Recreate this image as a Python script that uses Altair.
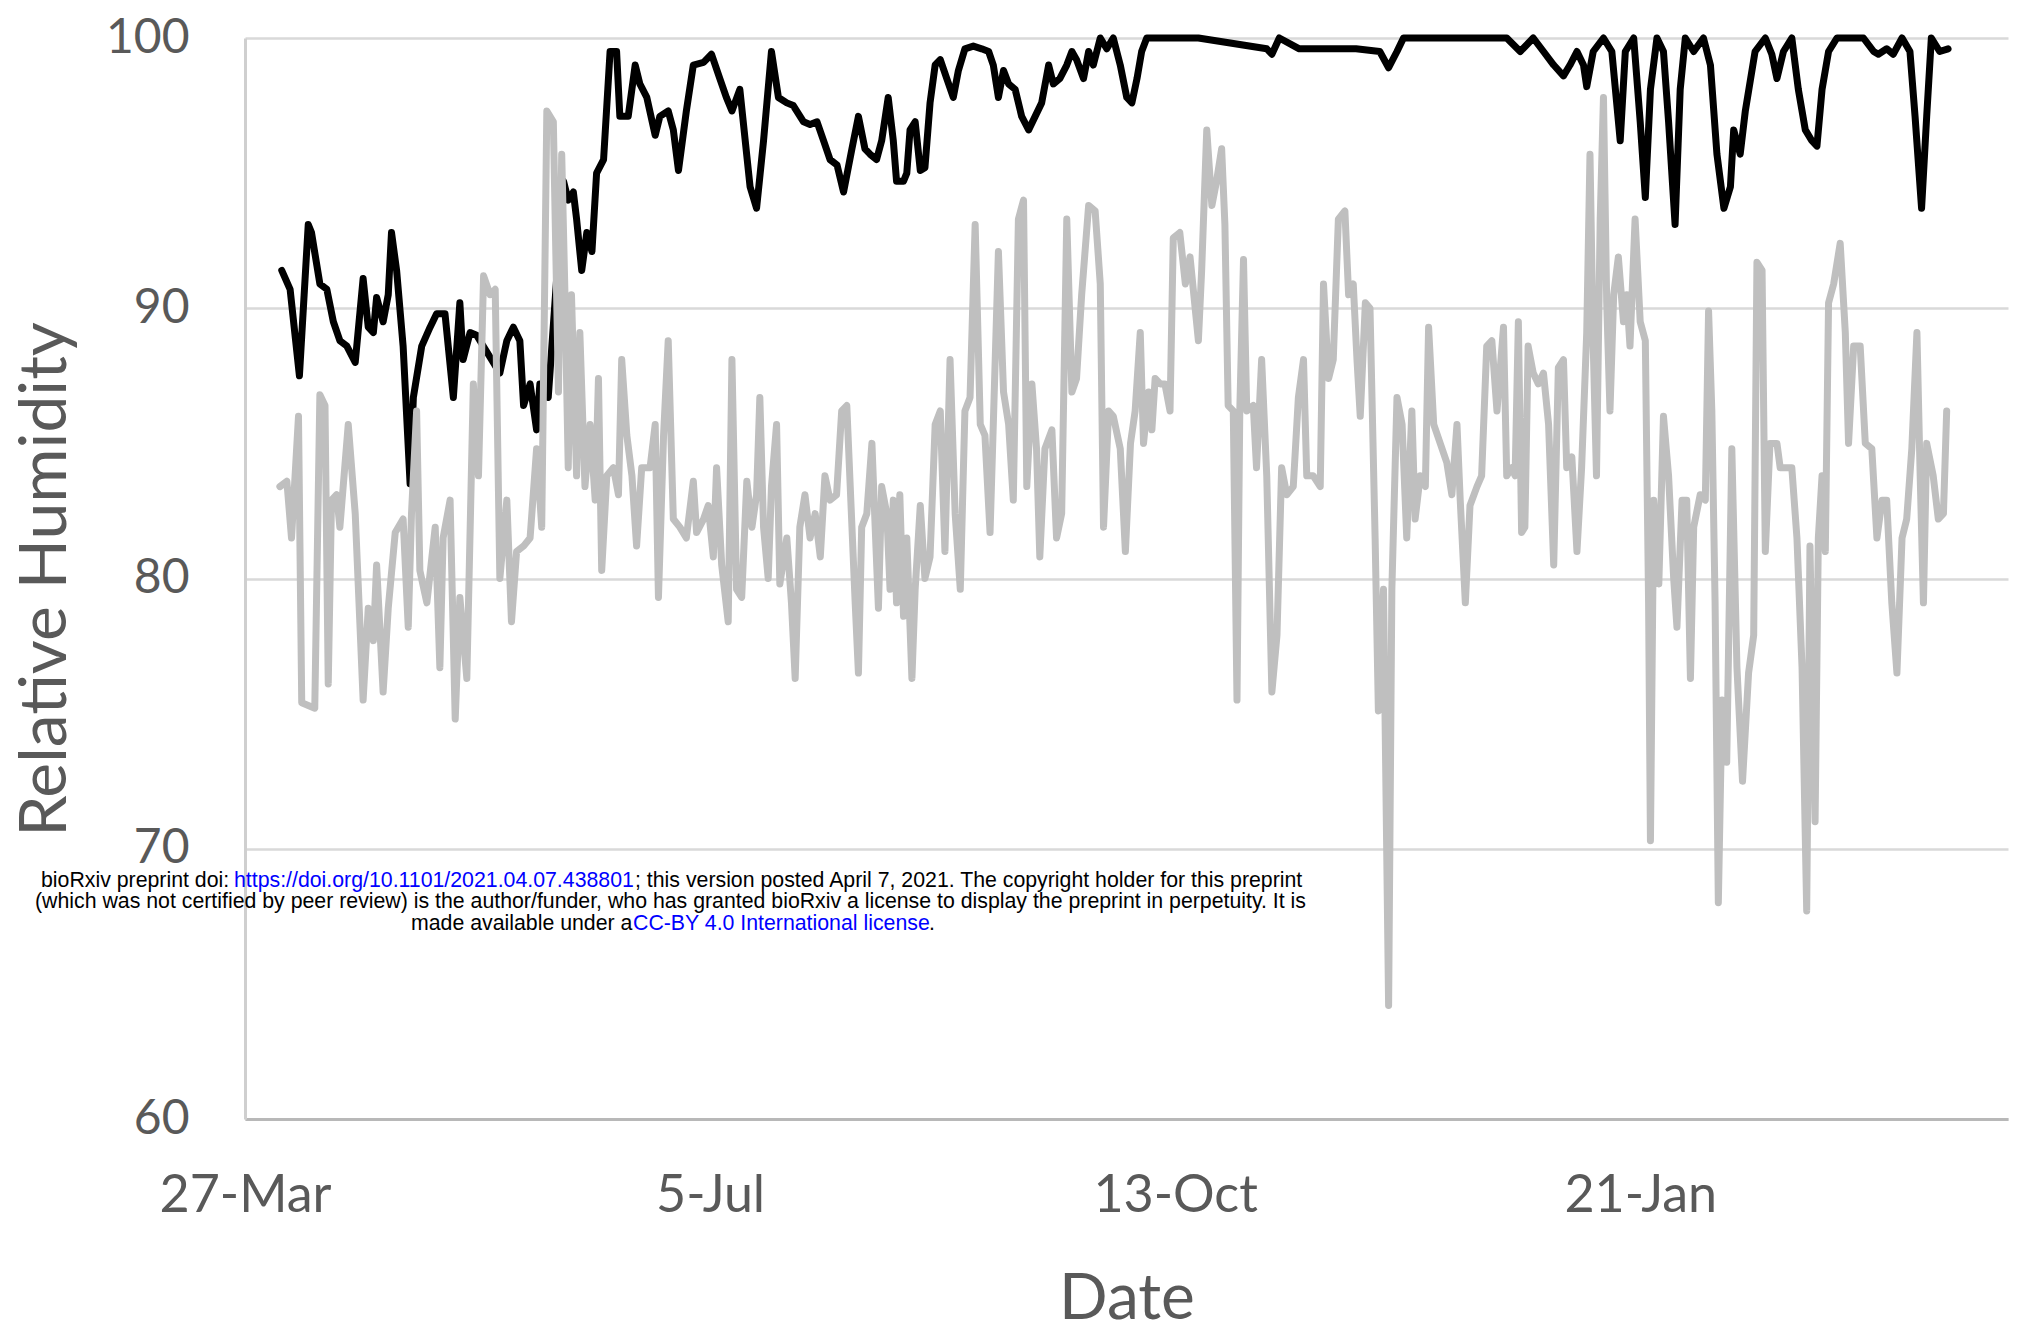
import altair as alt
import pandas as pd

# ---- data (day offset from 27-Mar, relative humidity %) ----
black_day = [
    7.9, 9.7, 11.7, 13.6, 14.3, 16.1, 17.6, 19.0, 20.4, 21.9,
    23.7, 25.4, 26.5, 27.6, 28.3, 29.7, 30.8, 31.5, 32.6, 34.0,
    35.5, 36.2, 38.0, 39.8, 41.2, 43.0, 44.8, 46.2, 46.9, 48.4,
    49.8, 54.8, 56.3, 57.7, 59.1, 59.9, 61.3, 62.7, 63.4, 65.2,
    68.5, 69.5, 70.6, 71.3, 72.4, 73.5, 74.6, 75.6, 77.1, 78.5,
    79.9, 80.6, 82.4, 83.9, 84.9, 86.4, 88.2, 89.2, 91.0, 92.1,
    93.2, 94.9, 96.4, 98.6, 100.3, 102.1, 103.5, 104.7, 106.4, 108.6,
    110.0, 111.5, 113.2, 114.7, 116.5, 117.9, 120.1, 121.5, 123.0, 124.4,
    125.8, 127.3, 128.7, 130.5, 131.9, 133.3, 134.4, 135.8, 136.9, 138.3,
    139.4, 140.1, 141.6, 142.3, 143.0, 144.1, 145.2, 146.2, 147.3, 148.4,
    149.5, 150.9, 152.3, 153.4, 154.8, 156.6, 158.4, 159.9, 160.9, 162.0,
    163.1, 164.2, 165.6, 167.0, 168.5, 169.9, 171.3, 172.8, 173.8, 175.2,
    176.7, 177.8, 178.8, 180.3, 181.4, 182.4, 183.9, 185.3, 186.7, 188.2,
    189.6, 190.7, 191.8, 192.8, 193.9, 205.0, 219.7, 220.8, 222.4, 226.7,
    238.9, 244.0, 245.9, 247.7, 249.1, 259.2, 271.3, 274.2, 277.0, 279.2,
    281.4, 283.5, 284.9, 286.4, 287.8, 288.5, 289.9, 292.1, 293.9, 295.7,
    296.8, 298.6, 300.0, 301.1, 302.2, 303.6, 305.0, 306.1, 307.5, 308.6,
    309.7, 311.5, 313.6, 315.1, 316.5, 318.0, 319.4, 320.1, 321.5, 322.6,
    324.7, 326.9, 328.3, 329.4, 330.8, 332.6, 334.0, 335.5, 336.9, 338.0,
    339.1, 340.5, 342.3, 345.2, 348.0, 350.2, 351.2, 353.0, 354.4, 356.3,
    358.0, 359.1, 360.5, 361.6, 362.6, 364.4, 366.2,
]
black_rh = [
    91.4, 90.7, 87.5, 93.1, 92.8, 90.9, 90.7, 89.5, 88.8, 88.6,
    88.0, 91.1, 89.3, 89.1, 90.4, 89.5, 90.5, 92.8, 91.4, 88.6,
    83.5, 86.7, 88.6, 89.3, 89.8, 89.8, 86.7, 90.2, 88.1, 89.1,
    89.0, 87.6, 88.8, 89.3, 88.8, 86.4, 87.2, 85.5, 87.2, 86.7,
    94.7, 94.0, 94.3, 93.3, 91.4, 92.8, 92.1, 95.0, 95.5, 99.5,
    99.5, 97.1, 97.1, 99.0, 98.3, 97.8, 96.4, 97.1, 97.3, 96.6,
    95.1, 97.3, 99.0, 99.1, 99.4, 98.5, 97.8, 97.3, 98.1, 94.5,
    93.7, 96.2, 99.5, 97.8, 97.6, 97.5, 96.9, 96.8, 96.9, 96.2,
    95.5, 95.3, 94.3, 95.9, 97.1, 95.9, 95.7, 95.5, 96.2, 97.8,
    96.2, 94.7, 94.7, 95.0, 96.6, 96.9, 95.1, 95.2, 97.6, 99.0,
    99.2, 98.5, 97.8, 98.8, 99.6, 99.7, 99.6, 99.5, 99.0, 97.8,
    98.8, 98.3, 98.1, 97.1, 96.6, 97.1, 97.6, 99.0, 98.3, 98.5,
    99.0, 99.5, 99.2, 98.5, 99.5, 99.0, 100.0, 99.6, 100.0, 99.0,
    97.8, 97.6, 98.5, 99.5, 100.0, 100.0, 99.6, 99.4, 100.0, 99.6,
    99.6, 99.5, 98.9, 99.5, 100.0, 100.0, 100.0, 99.5, 100.0, 99.5,
    99.0, 98.6, 99.0, 99.5, 99.0, 98.2, 99.5, 100.0, 99.5, 96.2,
    99.5, 100.0, 96.9, 94.1, 98.1, 100.0, 99.5, 96.9, 93.1, 98.1,
    100.0, 99.5, 100.0, 99.0, 95.7, 93.7, 94.5, 96.6, 95.7, 97.3,
    99.5, 100.0, 99.4, 98.5, 99.5, 100.0, 98.1, 96.6, 96.2, 96.0,
    98.1, 99.5, 100.0, 100.0, 100.0, 99.5, 99.4, 99.6, 99.4, 100.0,
    99.5, 97.1, 93.7, 97.1, 100.0, 99.5, 99.6,
]

gray_day = [
    7.5, 9.0, 10.0, 11.5, 12.2, 13.6, 15.0, 16.1, 17.2, 17.9,
    18.6, 19.7, 20.4, 22.2, 23.7, 25.4, 26.5, 27.6, 28.3, 29.7,
    30.8, 32.3, 34.0, 35.1, 35.8, 36.9, 37.6, 39.1, 40.9, 41.9,
    42.6, 44.1, 45.2, 46.2, 47.7, 49.1, 50.2, 51.3, 52.7, 53.8,
    54.8, 56.3, 57.3, 58.4, 59.9, 61.3, 62.7, 63.8, 64.9, 66.3,
    67.4, 68.1, 68.8, 69.5, 70.2, 71.3, 72.0, 73.1, 74.2, 75.3,
    76.0, 76.7, 77.8, 79.2, 80.3, 81.0, 82.1, 83.2, 84.2, 85.3,
    87.1, 88.2, 88.9, 90.0, 91.0, 92.1, 93.5, 94.9, 96.4, 97.1,
    98.6, 99.6, 100.7, 101.4, 102.5, 103.9, 104.7, 105.7, 106.8, 107.9,
    109.0, 110.0, 110.7, 111.5, 112.5, 113.2, 114.3, 115.0, 116.5, 117.5,
    118.3, 119.3, 120.4, 121.5, 122.6, 123.7, 124.7, 125.8, 127.2, 128.3,
    129.4, 131.2, 131.9, 132.6, 133.7, 134.8, 135.5, 136.2, 136.9, 138.0,
    138.7, 139.4, 140.1, 140.8, 141.6, 142.3, 143.4, 144.1, 145.2, 146.2,
    147.3, 148.4, 149.5, 150.5, 151.6, 152.7, 153.8, 154.8, 155.9, 157.0,
    158.1, 159.1, 160.2, 160.9, 162.0, 163.1, 164.2, 165.2, 166.3, 167.4,
    168.1, 169.2, 170.2, 170.9, 172.0, 173.5, 174.5, 175.6, 176.7, 177.8,
    178.8, 179.9, 181.4, 182.8, 183.9, 184.6, 185.7, 186.7, 188.2, 189.3,
    190.4, 191.4, 192.5, 193.2, 194.3, 195.0, 195.7, 196.8, 197.8, 198.9,
    199.6, 201.0, 202.2, 203.2, 203.9, 205.0, 205.7, 206.8, 207.9, 208.9,
    210.0, 210.7, 211.4, 212.5, 213.3, 213.9, 214.7, 215.4, 216.8, 217.5,
    218.6, 219.7, 220.8, 221.9, 222.9, 224.0, 225.4, 226.5, 227.6, 228.3,
    229.7, 231.2, 231.9, 233.0, 234.0, 235.1, 236.5, 237.3, 238.3, 239.1,
    239.8, 240.9, 241.9, 243.0, 243.7, 244.8, 245.9, 246.6, 247.7, 248.8,
    249.8, 250.9, 251.6, 252.7, 253.8, 254.5, 255.6, 257.0, 258.4, 259.5,
    260.6, 261.3, 262.4, 263.4, 264.9, 265.9, 267.0, 268.1, 269.2, 270.6,
    271.3, 272.4, 273.1, 273.8, 274.5, 275.2, 275.9, 277.0, 278.1, 279.2,
    280.3, 281.4, 282.4, 283.5, 284.2, 285.3, 286.4, 287.4, 288.5, 289.2,
    289.9, 290.6, 291.4, 292.1, 292.8, 293.5, 294.3, 295.3, 296.4, 297.1,
    297.8, 298.9, 300.0, 301.1, 301.8, 302.2, 302.9, 304.0, 305.0, 306.1,
    307.2, 307.9, 309.0, 310.0, 310.8, 311.5, 312.9, 314.0, 314.7, 315.4,
    316.1, 316.8, 317.6, 318.6, 319.7, 320.8, 322.0, 323.3, 324.4, 325.1,
    326.2, 326.9, 327.9, 329.4, 330.1, 331.5, 332.6, 333.7, 334.8, 335.8,
    336.5, 337.6, 338.3, 339.1, 339.8, 340.5, 341.6, 343.0, 344.1, 344.8,
    345.9, 347.3, 348.4, 349.8, 350.9, 352.0, 353.0, 354.1, 355.2, 356.3,
    357.3, 358.4, 359.5, 360.2, 360.9, 361.6, 363.0, 364.1, 365.2, 365.9,
]
gray_rh = [
    83.4, 83.6, 81.5, 86.0, 75.4, 75.3, 75.2, 86.8, 86.4, 76.1,
    82.9, 83.1, 81.9, 85.7, 82.4, 75.5, 78.9, 77.7, 80.5, 75.8,
    78.9, 81.7, 82.2, 78.2, 82.4, 86.2, 80.3, 79.1, 81.9, 76.7,
    81.5, 82.9, 74.8, 79.3, 76.3, 87.2, 83.8, 91.2, 90.5, 90.7,
    80.0, 82.9, 78.4, 81.0, 81.2, 81.5, 84.8, 81.9, 97.3, 96.9,
    86.9, 95.7, 90.5, 84.1, 90.5, 83.8, 89.1, 83.4, 85.7, 82.9,
    87.4, 80.3, 83.8, 84.1, 83.1, 88.1, 85.3, 83.8, 81.2, 84.1,
    84.1, 85.7, 79.3, 85.3, 88.8, 82.2, 81.9, 81.5, 83.6, 81.7,
    82.2, 82.7, 80.8, 84.1, 80.5, 78.4, 88.1, 79.6, 79.3, 83.6,
    81.9, 83.1, 86.7, 81.9, 80.0, 83.4, 85.7, 79.8, 81.5, 79.1,
    76.3, 81.9, 83.1, 81.5, 82.4, 80.8, 83.8, 82.9, 83.1, 86.2,
    86.4, 79.1, 76.5, 81.9, 82.4, 85.0, 81.9, 78.9, 83.4, 82.4,
    79.6, 82.9, 79.1, 83.1, 78.6, 81.5, 76.3, 79.6, 82.7, 80.0,
    80.8, 85.7, 86.2, 81.0, 88.1, 82.4, 79.6, 86.2, 86.7, 93.1,
    85.7, 85.3, 81.7, 85.7, 92.1, 86.9, 85.7, 82.9, 93.3, 94.0,
    83.4, 87.2, 84.8, 80.8, 84.8, 85.5, 81.5, 82.4, 93.3, 86.9,
    87.4, 90.5, 93.8, 93.6, 90.9, 81.9, 86.2, 86.0, 84.8, 81.0,
    85.0, 86.2, 89.1, 85.0, 86.9, 85.5, 87.4, 87.2, 87.2, 86.2,
    92.6, 92.8, 90.9, 91.9, 90.7, 88.8, 91.4, 96.6, 93.8, 94.7,
    95.9, 93.1, 86.4, 86.2, 75.5, 86.2, 91.8, 86.2, 86.4, 84.1,
    88.1, 83.8, 75.8, 77.9, 84.1, 83.1, 83.4, 86.7, 88.1, 83.8,
    83.8, 83.4, 90.9, 87.4, 88.1, 93.3, 93.6, 90.5, 90.9, 88.1,
    86.0, 90.2, 90.0, 81.5, 75.1, 79.6, 64.2, 79.6, 86.7, 85.7,
    81.5, 86.2, 82.2, 83.8, 83.4, 89.3, 85.7, 85.0, 84.3, 83.1,
    85.7, 82.9, 79.1, 82.7, 83.4, 83.8, 88.6, 88.8, 86.2, 89.3,
    83.8, 84.1, 83.8, 89.5, 81.7, 81.9, 88.6, 87.6, 87.2, 87.6,
    85.7, 80.5, 87.8, 88.1, 84.1, 84.5, 81.0, 84.1, 89.1, 95.7,
    88.6, 83.8, 93.3, 97.8, 90.2, 86.2, 90.5, 91.9, 89.5, 90.5,
    88.6, 93.3, 89.5, 88.8, 79.1, 70.3, 82.9, 79.8, 86.0, 83.8,
    80.0, 78.2, 82.9, 82.9, 76.3, 81.9, 83.1, 82.9, 89.9, 86.2,
    79.1, 68.0, 75.5, 73.2, 84.8, 76.7, 72.5, 76.5, 77.9, 91.7,
    91.4, 81.0, 85.0, 85.0, 84.1, 84.1, 84.1, 81.5, 76.7, 67.7,
    81.2, 71.0, 81.5, 83.8, 81.0, 90.2, 90.9, 92.4, 89.1, 85.0,
    88.6, 88.6, 85.0, 84.8, 81.5, 82.9, 82.9, 79.1, 76.5, 81.5,
    82.2, 84.8, 89.1, 83.8, 79.1, 85.0, 83.8, 82.2, 82.4, 86.2,
]

start_date = "2019-03-27"
end_date = "2020-04-09T02:00:00"
x_tick_dates = ["2019-03-27", "2019-07-05", "2019-10-13", "2020-01-21"]
y_ticks = [60, 70, 80, 90, 100]

notice_lines = [
    [("bioRxiv preprint doi: ", "#000000"),
     ("https://doi.org/10.1101/2021.04.07.438801", "#0000ff"),
     ("; this version posted April 7, 2021. The copyright holder for this preprint", "#000000")],
    [("(which was not certified by peer review) is the author/funder, who has granted bioRxiv a license to display the preprint in perpetuity. It is", "#000000")],
    [("made available under a", "#000000"),
     ("CC-BY 4.0 International license", "#0000ff"),
     (".", "#000000")],
]
# left edges (px, relative to plot origin) and vertical centres of the notice segments
notice_x = [[-204, -11, 390], [-210], [166, 388, 684]]
notice_y = [843, 864, 886]

# ---- build frames ----
base = pd.Timestamp(start_date)


def frame(days, vals):
    ts = [(base + pd.Timedelta(days=d)).strftime("%Y-%m-%dT%H:%M:%SZ") for d in days]
    return pd.DataFrame({"date": ts, "rh": vals})


def dt(s):
    t = pd.Timestamp(s)
    return alt.DateTime(year=t.year, month=t.month, date=t.day, hours=t.hour, utc=True)


black_df = frame(black_day, black_rh)
gray_df = frame(gray_day, gray_rh)

FONT = "Lato"
LABEL = "#595959"

x_enc = alt.X(
    "date:T",
    scale=alt.Scale(type="utc", domain=[dt(start_date), dt(end_date)]),
    axis=alt.Axis(
        values=[dt(s) for s in x_tick_dates],
        labelExpr="utcFormat(datum.value, '%-d-%b')",
        grid=False,
        domain=True,
        domainColor="#b8b8b8",
        domainWidth=3,
        ticks=False,
        tickSize=0,
        labelPadding=51,
        labelFont=FONT,
        labelFontSize=52,
        labelColor=LABEL,
        labelFlush=False,
        labelOverlap=False,
        title="Date",
        titleFont=FONT,
        titleFontSize=64,
        titleFontWeight="normal",
        titleColor=LABEL,
        titleY=199,
        titleBaseline="alphabetic",
    ),
)
y_enc = alt.Y(
    "rh:Q",
    scale=alt.Scale(domain=[60, 100], nice=False, zero=False),
    axis=alt.Axis(
        values=y_ticks,
        grid=True,
        gridColor="#d9d9d9",
        gridWidth=2.5,
        domain=True,
        domainColor="#cfcfcf",
        domainWidth=3,
        ticks=False,
        tickSize=0,
        labelPadding=56,
        labelFont=FONT,
        labelFontSize=48,
        labelColor=LABEL,
        title="Relative Humidity",
        titleFont=FONT,
        titleFontSize=66,
        titleFontWeight="normal",
        titleColor=LABEL,
        titleAngle=270,
        titleX=-200,
        titleY=541,
        titleAlign="center",
        titleBaseline="middle",
    ),
)

black_line = alt.Chart(black_df).mark_line(
    color="#000000", strokeWidth=7, strokeJoin="round", strokeCap="round"
).encode(x=x_enc, y=y_enc)

gray_line = alt.Chart(gray_df).mark_line(
    color="#bfbfbf", strokeWidth=7, strokeJoin="round", strokeCap="round"
).encode(x=x_enc, y=y_enc)

texts = []
for segs, xs, yy in zip(notice_lines, notice_x, notice_y):
    for (txt, col), xx in zip(segs, xs):
        texts.append(
            alt.Chart(pd.DataFrame({"t": [txt]})).mark_text(
                align="left", baseline="middle", font="Liberation Sans",
                fontSize=21.3, color=col,
            ).encode(text="t:N", x=alt.value(xx), y=alt.value(yy))
        )

chart = alt.layer(black_line, gray_line, *texts).properties(
    width=1763,
    height=1081,
    autosize=alt.AutoSizeParams(type="none"),
    padding={"left": 245, "top": 38, "right": 14, "bottom": 213},
    background="white",
).configure_view(stroke=None)

chart.save("out.html", embed_options={"renderer": "svg", "actions": False})
